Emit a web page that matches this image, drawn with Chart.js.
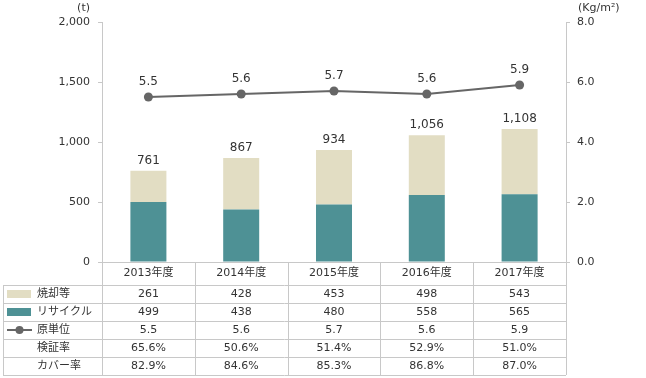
<!DOCTYPE html>
<html>
<head>
<meta charset="utf-8">
<script src="https://cdn.jsdelivr.net/npm/chart.js@4/dist/chart.umd.min.js"></script>
<style>
  html, body { margin: 0; padding: 0; background: #fff; }
  #wrap { width: 646px; height: 378px; position: relative; }
</style>
</head>
<body>
<div id="wrap"><canvas id="chart"></canvas></div>
<script>
// data
const years = ['2013年度', '2014年度', '2015年度', '2016年度', '2017年度'];
const incineration = [261, 428, 453, 498, 543];   // 焼却等
const recycle = [499, 438, 480, 558, 565];        // リサイクル
const totals = [761, 867, 934, 1056, 1108];
const intensity = [5.5, 5.6, 5.7, 5.6, 5.9];      // 原単位
const verifyRate = ['65.6%', '50.6%', '51.4%', '52.9%', '51.0%'];
const coverRate = ['82.9%', '84.6%', '85.3%', '86.8%', '87.0%'];

const FONT = '"DejaVu Sans", "Noto Sans CJK JP", sans-serif';
const JP = '"Noto Sans CJK JP", sans-serif';
const TEXT = '#333';
const LINE = '#c8c8c8';
const BEIGE = '#e2ddc3';
const TEAL = '#4e9195';
const GRAY = '#666';

// labels above bars / points, axis units and the data table below
const extras = {
  id: 'extras',
  afterDraw(chart) {
    const c = chart.ctx;
    const x = chart.scales.x, y = chart.scales.y, y1 = chart.scales.y1;
    const area = chart.chartArea;
    c.save();
    c.fillStyle = TEXT;
    c.font = '12px ' + FONT;
    c.textAlign = 'center';
    c.textBaseline = 'middle';
    years.forEach((_, i) => {
      const px = x.getPixelForValue(i);
      c.fillText(totals[i].toLocaleString('en-US'), px, y.getPixelForValue(totals[i]) - 10);
      c.fillText(intensity[i].toFixed(1), px, y1.getPixelForValue(intensity[i]) - 15);
    });
    // units
    c.font = '11px ' + FONT;
    c.textAlign = 'right';
    c.fillText('(t)', 90, 8);
    c.textAlign = 'left';
    c.fillText('(Kg/m²)', 578, 8);

    // table
    const left = 3, labelRight = area.left, right = area.right;
    const top = area.bottom, headBottom = 285, rowH = 18;
    const rows = [
      { name: '焼却等', vals: incineration.map(String), key: 'beige' },
      { name: 'リサイクル', vals: recycle.map(String), key: 'teal' },
      { name: '原単位', vals: intensity.map(v => v.toFixed(1)), key: 'line' },
      { name: '検証率', vals: verifyRate },
      { name: 'カバー率', vals: coverRate }
    ];
    const bottom = headBottom + rows.length * rowH;
    c.strokeStyle = LINE;
    c.lineWidth = 1;
    c.beginPath();
    for (let r = 0; r <= rows.length; r++) {
      const ly = Math.round(headBottom + r * rowH) + 0.5;
      c.moveTo(left, ly); c.lineTo(right, ly);
    }
    c.moveTo(left + 0.5, headBottom); c.lineTo(left + 0.5, bottom);
    c.moveTo(Math.round(labelRight) + 0.5, top); c.lineTo(Math.round(labelRight) + 0.5, bottom);
    for (let i = 1; i < years.length; i++) {
      const bx = Math.round((x.getPixelForValue(i - 1) + x.getPixelForValue(i)) / 2) + 0.5;
      c.moveTo(bx, top); c.lineTo(bx, bottom);
    }
    c.moveTo(Math.round(right) + 0.5, top); c.lineTo(Math.round(right) + 0.5, bottom);
    c.stroke();

    c.fillStyle = TEXT;
    c.textAlign = 'center';
    years.forEach((yr, i) => c.fillText(yr, x.getPixelForValue(i), (top + headBottom) / 2));
    rows.forEach((row, r) => {
      const cy = headBottom + r * rowH + rowH / 2;
      if (row.key === 'beige' || row.key === 'teal') {
        c.fillStyle = row.key === 'beige' ? BEIGE : TEAL;
        c.fillRect(7, cy - 4, 24, 8);
      } else if (row.key === 'line') {
        c.strokeStyle = GRAY;
        c.lineWidth = 2;
        c.beginPath(); c.moveTo(7, cy); c.lineTo(32, cy); c.stroke();
        c.fillStyle = GRAY;
        c.beginPath(); c.arc(19.5, cy, 4, 0, Math.PI * 2); c.fill();
      }
      c.fillStyle = TEXT;
      c.textAlign = 'left';
      c.font = '11px ' + JP;
      c.fillText(row.name, 37, cy - 1);
      c.font = '11px ' + FONT;
      c.textAlign = 'center';
      row.vals.forEach((v, i) => c.fillText(v, x.getPixelForValue(i), cy));
    });
    c.restore();
  }
};

new Chart(document.getElementById('chart'), {
  type: 'bar',
  data: {
    labels: years,
    datasets: [
      {
        type: 'line',
        label: '原単位',
        data: intensity,
        yAxisID: 'y1',
        borderColor: GRAY,
        backgroundColor: GRAY,
        borderWidth: 2,
        pointRadius: 4.5,
        pointBackgroundColor: GRAY,
        pointBorderWidth: 0,
        tension: 0,
        order: 0
      },
      {
        label: 'リサイクル',
        data: recycle,
        backgroundColor: TEAL,
        yAxisID: 'y',
        stack: 's',
        barPercentage: 0.388,
        categoryPercentage: 1,
        order: 1
      },
      {
        label: '焼却等',
        data: incineration,
        backgroundColor: BEIGE,
        yAxisID: 'y',
        stack: 's',
        barPercentage: 0.388,
        categoryPercentage: 1,
        order: 1
      }
    ]
  },
  options: {
    responsive: true,
    maintainAspectRatio: false,
    animation: false,
    layout: { padding: { top: 22, left: 0, right: 0, bottom: 0 } },
    plugins: { legend: { display: false }, tooltip: { enabled: false } },
    scales: {
      x: {
        stacked: true,
        grid: { display: false },
        border: { color: LINE },
        ticks: { display: false },
        afterFit: (s) => { s.height = 116; }
      },
      y: {
        stacked: true,
        min: 0, max: 2000,
        ticks: {
          stepSize: 500, padding: 8, color: TEXT,
          font: { family: FONT, size: 11 },
          callback: (v) => v.toLocaleString('en-US')
        },
        grid: { drawOnChartArea: false, tickLength: 4, color: LINE },
        border: { color: LINE },
        afterFit: (s) => { s.width = 102; }
      },
      y1: {
        position: 'right',
        min: 0, max: 8,
        ticks: {
          stepSize: 2, padding: 7, color: TEXT,
          font: { family: FONT, size: 11 },
          callback: (v) => v.toFixed(1)
        },
        grid: { drawOnChartArea: false, tickLength: 4, color: LINE },
        border: { color: LINE },
        afterFit: (s) => { s.width = 80; }
      }
    }
  },
  plugins: [extras]
});
</script>
</body>
</html>
